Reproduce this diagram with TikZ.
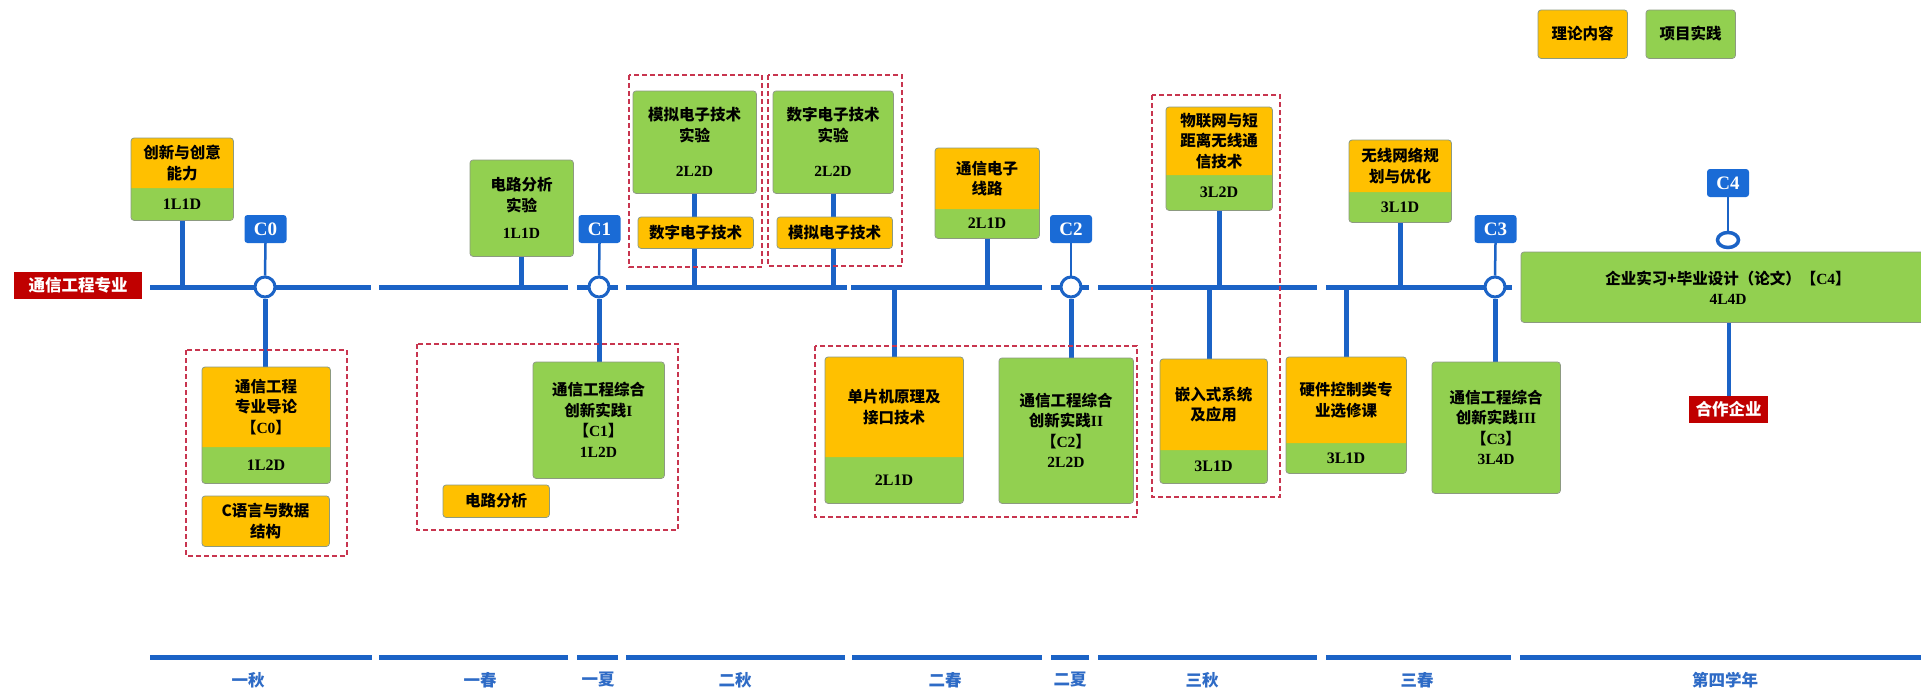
\documentclass[tikz,border=0pt]{standalone}
\usepackage{fontspec}
\setmainfont{Noto Sans CJK SC}
\newfontfamily\tnr{Liberation Serif}
\usetikzlibrary{shapes.geometric}
\pgfdeclarelayer{bg}
\pgfsetlayers{bg,main}
\definecolor{porange}{HTML}{FFC000}
\definecolor{pgreen}{HTML}{92D050}
\definecolor{lblue}{HTML}{1B63C6}
\definecolor{bblue}{HTML}{1A6BD6}
\definecolor{rlab}{HTML}{C00000}
\definecolor{dred}{HTML}{C8354F}
\definecolor{sblue}{HTML}{2E6BC6}
\definecolor{bordc}{HTML}{8C9A80}
\tikzset{
 txt/.style={font=\bfseries\fontsize{15.5}{20.5}\selectfont, align=center, inner sep=0pt},
 lat/.style={font=\tnr\bfseries\fontsize{16}{20}\selectfont, inner sep=0pt},
 mline/.style={line width=5pt, draw=lblue},
 stem/.style={line width=5pt, draw=lblue},
 thinstem/.style={line width=2.5pt, draw=lblue},
 ring/.style={circle, draw=lblue, line width=3pt, fill=white, minimum size=20pt, inner sep=0pt},
 badge/.style={fill=bblue, rounded corners=3pt, text=white, font=\tnr\bfseries\fontsize{19}{20}\selectfont, minimum width=42pt, minimum height=28pt, inner sep=0pt},
 dbox/.style={draw=dred, dash pattern=on 5pt off 3pt, line width=1.3pt},
 redlab/.style={fill=rlab, text=white, font=\bfseries\fontsize{16.5}{20}\selectfont, inner sep=0pt},
 season/.style={text=sblue, font=\bfseries\fontsize{16.5}{20}\selectfont, inner sep=0pt},
 frame/.style={draw=bordc, line width=0.8pt, rounded corners=3pt},
}
% two-tone box: name, x1, y1, x2, y2, ymid, top text, bottom text
\newcommand\twobox[8]{%
 \node[anchor=north west, fill=pgreen, minimum width={#4-#2}, minimum height={#5-#3}, inner sep=0pt, rounded corners=3pt] (#1) at (#2,#3) {};
 \fill[porange, rounded corners=3pt] (#2,#6) -- (#2,#3) -- (#4,#3) -- (#4,#6);
 \draw[frame] (#1.north west) rectangle (#1.south east);
 \node[txt] (#1t) at ({(#2+#4)/2},{(#3+#6)/2}) {#7};
 \node[lat] (#1b) at ({(#2+#4)/2},{(#6+#5)/2}) {#8};
}
% single-colour box: name, colour, x1, y1, x2, y2, text
\newcommand\onebox[7]{%
 \node[anchor=north west, fill=#2, minimum width={#5-#3}, minimum height={#6-#4}, inner sep=0pt, rounded corners=3pt] (#1) at (#3,#4) {};
 \draw[frame] (#1.north west) rectangle (#1.south east);
 \node[txt] (#1t) at ({(#3+#5)/2},{(#4+#6)/2}) {#7};
}
\begin{document}
\begin{tikzpicture}[x=1pt,y=-1pt]
\useasboundingbox (0,0) rectangle (1921,688);
\begin{pgfonlayer}{bg}
\fill[white] (0,0) rectangle (1921,688);
\end{pgfonlayer}
\coordinate (ml) at (0,287);

% legend
\onebox{legO}{porange}{1538}{10}{1627}{58}{理论内容}
\onebox{legG}{pgreen}{1646}{10}{1735}{58}{项目实践}

% left red label
\node[redlab, minimum width=128pt, minimum height=27pt] (major) at (78,285.5) {通信工程专业};

% dashed groups
\draw[dbox] (186,350) rectangle (347,556);
\draw[dbox] (417,344) rectangle (678,530);
\draw[dbox] (629,75) rectangle (762,267);
\draw[dbox] (768,75) rectangle (902,266);
\draw[dbox] (815,346) rectangle (1137,517);
\draw[dbox] (1152,95) rectangle (1280,497);

% boxes
\twobox{A}{131}{138}{233}{220}{188}{创新与创意\\能力}{1L1D}
\twobox{B}{202}{367}{330}{483}{447}{通信工程\\专业导论\\【{\tnr C0}】}{1L2D}
\onebox{Bc}{porange}{202}{496}{329}{546}{C语言与数据\\结构}
\onebox{Cx}{pgreen}{470}{160}{573}{256}{电路分析\\实验\\[7pt]{\tnr 1L1D}}
\onebox{D}{pgreen}{533}{362}{664}{478}{通信工程综合\\创新实践{\tnr I}\\【{\tnr C1}】\\{\tnr 1L2D}}
\onebox{Dc}{porange}{443}{485}{549}{517}{电路分析}
\onebox{E}{pgreen}{633}{91}{756}{193}{模拟电子技术\\实验\\[15pt]{\tnr 2L2D}}
\onebox{F}{pgreen}{773}{91}{893}{193}{数字电子技术\\实验\\[15pt]{\tnr 2L2D}}
\twobox{G}{935}{148}{1039}{238}{209}{通信电子\\线路}{2L1D}
\twobox{H}{825}{357}{963}{503}{457}{单片机原理及\\接口技术}{2L1D}
\onebox{I}{pgreen}{999}{358}{1133}{503}{通信工程综合\\创新实践{\tnr II}\\【{\tnr C2}】\\{\tnr 2L2D}}
\twobox{J}{1166}{107}{1272}{210}{175}{物联网与短\\距离无线通\\信技术}{3L2D}
\twobox{K}{1160}{359}{1267}{483}{450}{嵌入式系统\\及应用}{3L1D}
\twobox{L}{1286}{357}{1406}{473}{443}{硬件控制类专\\业选修课}{3L1D}
\twobox{M}{1349}{140}{1451}{222}{192}{无线网络规\\划与优化}{3L1D}
\onebox{N}{pgreen}{1432}{362}{1560}{493}{通信工程综合\\创新实践{\tnr III}\\【{\tnr C3}】\\{\tnr 3L4D}}
\onebox{P}{pgreen}{1521}{252}{1930}{322}{}
\node[txt] (Pt) at (1728,288) {企业实习+毕业设计（论文）【{\tnr C4}】\\{\tnr 4L4D}};
\node[redlab, minimum width=79pt, minimum height=27pt] (firm) at (1728.5,409.5) {合作企业};

% orange theory boxes on the experiment stems
\onebox{Eo}{porange}{638}{217}{753}{248}{数字电子技术}
\onebox{Fo}{porange}{777}{217}{892}{248}{模拟电子技术}

% rings and badges
\node[ring] (r0) at (265,287) {};
\node[ring] (r1) at (599,287) {};
\node[ring] (r2) at (1071,287) {};
\node[ring] (r3) at (1495,287) {};
\node[badge] (c0) at (265.5,229) {C0};
\node[badge] (c1) at (599.5,229) {C1};
\node[badge] (c2) at (1071,229) {C2};
\node[badge] (c3) at (1495.5,229) {C3};
\node[badge] (c4) at (1728,183) {C4};
\node[ellipse, draw=lblue, line width=3.5pt, fill=white, minimum width=21pt, minimum height=15pt, inner sep=0pt] (r4) at (1728,240) {};

% season labels
\node[season] (s1) at (248,680) {一秋};
\node[season] (s2) at (480,680) {一春};
\node[season] (s3) at (598,680) {一夏};
\node[season] (s4) at (735,680) {二秋};
\node[season] (s5) at (945,680) {二春};
\node[season] (s6) at (1070,680) {二夏};
\node[season] (s7) at (1202,680) {三秋};
\node[season] (s8) at (1417,680) {三春};
\node[season] (s9) at (1725,680) {第四学年};

\begin{pgfonlayer}{bg}
% main line
\foreach \a/\b in {150/371,379/568,577/618,626/847,851/1042,1051/1089,1098/1317,1326/1512}
  \draw[mline] (\a,287) -- (\b,287);
% bottom timeline
\foreach \a/\b in {150/372,379/568,577/618,626/845,852/1042,1051/1089,1098/1317,1326/1511,1520/1921}
  \draw[mline] (\a,657) -- (\b,657);
% stems to the main line
\draw[stem] (A.south) -- (A.south |- ml);
\draw[stem] (Cx.south) -- (Cx.south |- ml);
\draw[stem] (E.south) -- (E.south |- ml);
\draw[stem] (F.south) -- (F.south |- ml);
\draw[stem] (G.south) -- (G.south |- ml);
\draw[stem] (J.south) ++(0,0) -- (J.south |- ml);
\draw[stem] (M.south) -- (M.south |- ml);
\draw[stem] ([xshift=0pt]H.north) -- (H.north |- ml);
\draw[stem] ([xshift=-4pt]K.north) -- ([xshift=-4pt]K.north |- ml);
\draw[stem] (L.north) -- (L.north |- ml);
% C-stems
\draw[stem] (r0.south) -- (r0.south |- B.north);
\draw[stem] (r1.south) -- (r1.south |- D.north);
\draw[stem] (r2.south) -- (r2.south |- I.north);
\draw[stem] (r3.south) -- (r3.south |- N.north);
\draw[thinstem] (c0.south) -- (r0.north);
\draw[thinstem] (c1.south) -- (r1.north);
\draw[thinstem] (c2.south) -- (r2.north);
\draw[thinstem] (c3.south) -- (r3.north);
\draw[thinstem] (c4.south) -- (r4.north);
\draw[line width=4pt, draw=lblue] (P.south -| firm.north) -- (firm.north);
\end{pgfonlayer}
\end{tikzpicture}
\end{document}
